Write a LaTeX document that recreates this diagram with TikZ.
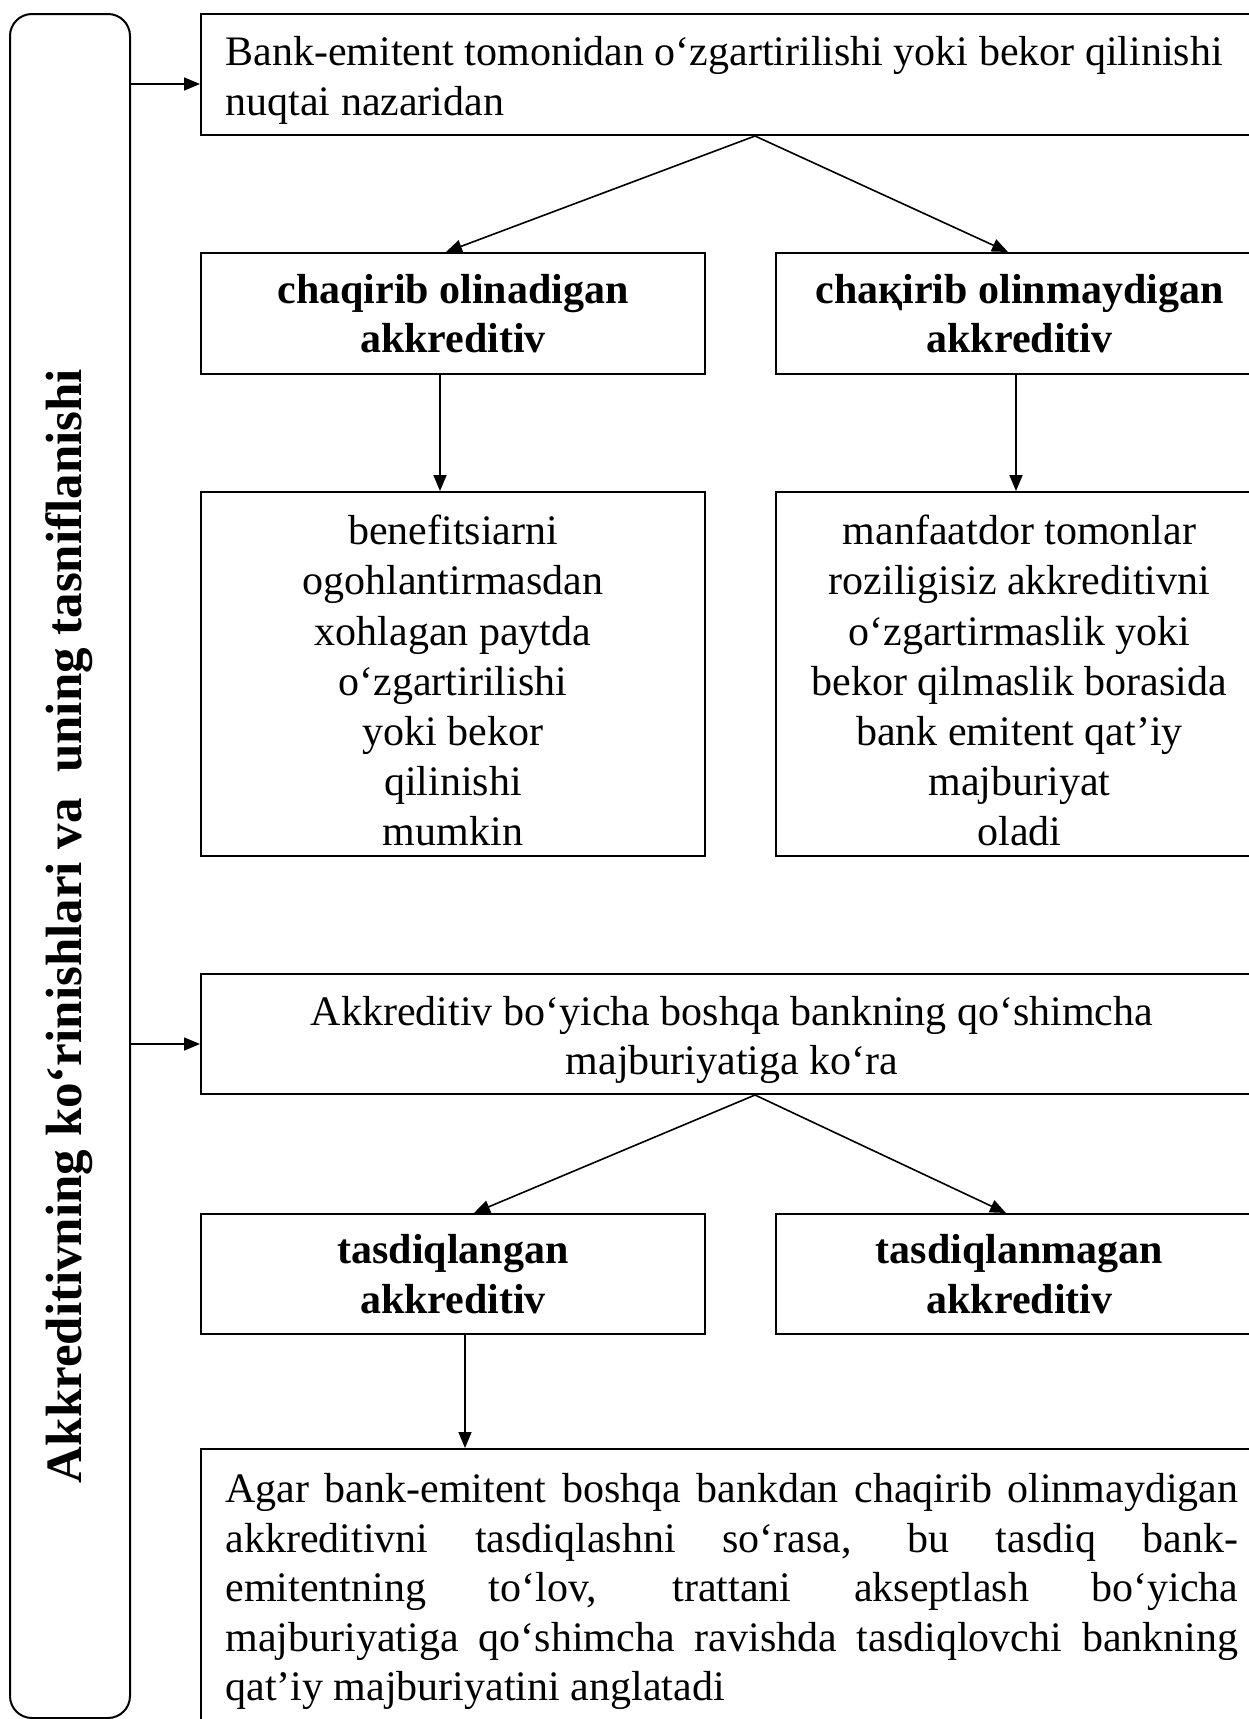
\documentclass[tikz,border=0pt]{standalone}
\usepackage{fontspec}
\setmainfont{Liberation Serif}
\usetikzlibrary{arrows.meta,calc}
\newcommand\mysz{\fontsize{42}{49.5}\selectfont}
\newcommand\mysztall{\fontsize{42}{50.2}\selectfont}
\newcommand\myszv{\fontsize{51}{60}\selectfont}
\newcommand\lowr[1]{\rule{0pt}{#1pt}}
\begin{document}
\begin{tikzpicture}[x=1pt,y=-1pt,
  bx/.style={draw, line width=2pt, inner sep=0pt, anchor=north west, font=\mysz},
  bold/.style={font=\mysz\bfseries},
  arr/.style={line width=1.6pt, -{Triangle[length=16pt,width=13pt]}},
]
\useasboundingbox (0,0) rectangle (1249,1719);
% left rounded box
\node[bx, rounded corners=22pt, minimum width=120pt, minimum height=1704pt] (L) at (9,13) {};
\node[font=\myszv\bfseries, rotate=90, inner sep=0pt] (Lt) at (69,926) {Akkreditivning ko‘rinishlari va\ \ uning tasniflanishi};
% first group
\node[bx, minimum width=1062pt, minimum height=121pt, text width=1013pt, align=flush left] (T1) at (200,13)
  {\lowr{41}\mbox{Bank-emitent tomonidan o‘zgartirilishi yoki bekor qilinishi}\\nuqtai nazaridan};
\node[bx, bold, minimum width=504pt, minimum height=121pt, text width=480pt, align=flush center] (A1) at (200,252)
  {chaqirib olinadigan\\akkreditiv};
\node[bx, bold, minimum width=487pt, minimum height=121pt, text width=470pt, align=flush center] (B1) at (775,252)
  {chaқirib olinmaydigan\\akkreditiv};
\node[bx, font=\mysztall, minimum width=504pt, minimum height=364pt, text width=480pt, align=flush center] (A2) at (200,491)
  {\lowr{43}benefitsiarni\\ogohlantirmasdan\\xohlagan paytda\\o‘zgartirilishi\\yoki bekor\\qilinishi\\mumkin};
\node[bx, font=\mysztall, minimum width=487pt, minimum height=364pt, text width=470pt, align=flush center] (B2) at (775,491)
  {\lowr{43}manfaatdor tomonlar\\roziligisiz akkreditivni\\o‘zgartirmaslik yoki\\bekor qilmaslik borasida\\bank emitent qat’iy\\majburiyat\\oladi};
% second group
\node[bx, minimum width=1062pt, minimum height=120pt, text width=1013pt, align=flush center] (T2) at (200,973)
  {\lowr{41}Akkreditiv bo‘yicha boshqa bankning qo‘shimcha\\majburiyatiga ko‘ra};
\node[bx, bold, minimum width=504pt, minimum height=120pt, text width=480pt, align=flush center] (A3) at (200,1213)
  {tasdiqlangan\\akkreditiv};
\node[bx, bold, minimum width=487pt, minimum height=120pt, text width=470pt, align=flush center] (B3) at (775,1213)
  {tasdiqlanmagan\\akkreditiv};
\node[bx, minimum width=1062pt, minimum height=285pt, text width=1013pt, align=justify] (A4) at (200,1448)
  {\tolerance=10000 Agar bank-emitent boshqa bankdan chaqirib olinmaydigan\linebreak
   akkreditivni tasdiqlashni so‘rasa, bu tasdiq bank-\linebreak
   emitentning to‘lov, trattani akseptlash bo‘yicha\linebreak
   majburiyatiga qo‘shimcha ravishda tasdiqlovchi bankning\linebreak
   qat’iy majburiyatini anglatadi};
% connectors
\coordinate (r1) at (0,84);
\coordinate (r2) at (0,1044);
\draw[arr] (L.east |- r1) -- (T1.west |- r1);
\draw[arr] (L.east |- r2) -- (T2.west |- r2);
\draw[arr] ([xshift=555pt]T1.south west) -- ([xshift=246pt]A1.north west);
\draw[arr] ([xshift=555pt]T1.south west) -- ([xshift=233pt]B1.north west);
\draw[arr] ([xshift=240pt]A1.south west) -- ([xshift=240pt]A2.north west);
\draw[arr] ([xshift=241pt]B1.south west) -- ([xshift=241pt]B2.north west);
\draw[arr] ([xshift=555pt]T2.south west) -- ([xshift=274pt]A3.north west);
\draw[arr] ([xshift=555pt]T2.south west) -- ([xshift=231pt]B3.north west);
\draw[arr] ([xshift=265pt]A3.south west) -- ([xshift=265pt]A4.north west);
\end{tikzpicture}
\end{document}
